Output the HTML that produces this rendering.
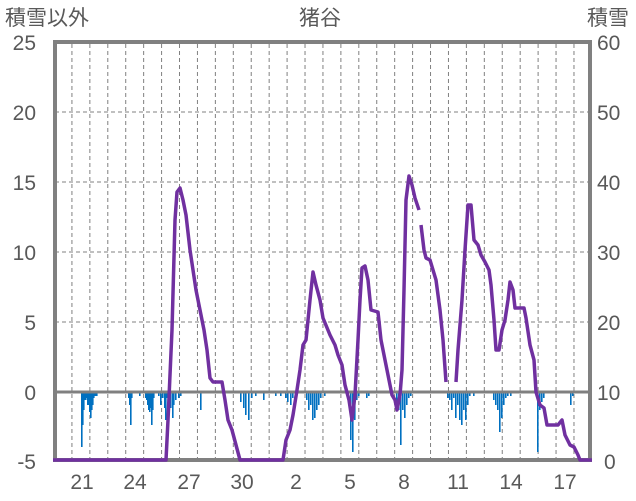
<!DOCTYPE html>
<html><head><meta charset="utf-8"><style>
body{margin:0;background:#fff}
svg{display:block}
text{font-family:"Liberation Sans","Noto Sans CJK JP",sans-serif;fill:#595959}
</style></head><body>
<svg width="636" height="501" viewBox="0 0 636 501">
<g stroke="#808080" stroke-width="1" stroke-dasharray="4,3">
<line x1="55" y1="112" x2="590" y2="112"/><line x1="55" y1="182" x2="590" y2="182"/>
<line x1="55" y1="252" x2="590" y2="252"/><line x1="55" y1="322" x2="590" y2="322"/>
</g>
<g id="vg" stroke="#808080" stroke-width="1" stroke-dasharray="4,3"></g>
<g id="bars" fill="#0070c0"></g>
<line x1="53" y1="392" x2="592" y2="392" stroke="#808080" stroke-width="3"/>
<path d="M55,42 H590 V460 H55 Z" fill="none" stroke="#808080" stroke-width="4"/>
<polyline fill="none" stroke="#7030a0" stroke-width="3.5" stroke-linejoin="round" points="53,460 166,460 168,420 172,330 175,220 177,192 180,188 183,200 186,215 190,250 193,270 196,290 200,310 204,330 207,350 210,378 213,382 222,382 225,400 228,420 232,430 236,445 240,460 283,460 286,440 290,430 293,415 297,390 300,370 303,345 306,340 310,300 313,272 316,285 320,300 323,318 330,335 335,345 338,355 342,365 345,385 349,400 352,420 355,395 358,340 360,300 362,268 365,266 368,280 371,310 378,312 381,340 384,355 388,375 392,395 395,400 397,410 400,395 402,370 404,290 406,200 409,176 412,185 415,198 419,210"/>
<polyline fill="none" stroke="#7030a0" stroke-width="3.5" stroke-linejoin="round" points="421,225 424,250 426,258 430,260 433,270 436,280 440,310 443,340 446,382"/>
<polyline fill="none" stroke="#7030a0" stroke-width="3.5" stroke-linejoin="round" points="456,382 458,350 462,300 465,250 468,205 471,205 474,240 478,245 481,255 485,262 489,270 491,285 494,320 496,350 499,350 502,330 505,320 508,300 510,282 513,290 515,308 524,308 526,318 530,345 534,360 536,392 540,405 544,408 547,425 558,425 562,420 565,435 570,445 574,447 578,455 580,460 592,460"/>
<g font-size="21" text-anchor="end">
<text x="36" y="50">25</text><text x="36" y="120">20</text><text x="36" y="190">15</text>
<text x="36" y="260">10</text><text x="36" y="330">5</text><text x="36" y="400">0</text><text x="36" y="469">-5</text>
</g>
<g font-size="21" text-anchor="start">
<text x="597" y="50">60</text><text x="597" y="120">50</text><text x="597" y="190">40</text>
<text x="597" y="260">30</text><text x="597" y="330">20</text><text x="597" y="400">10</text><text x="604" y="469">0</text>
</g>
<g font-size="21" text-anchor="middle">
<text x="82" y="489">21</text><text x="135" y="489">24</text><text x="189" y="489">27</text><text x="242" y="489">30</text>
<text x="296" y="489">2</text><text x="350" y="489">5</text><text x="404" y="489">8</text><text x="458" y="489">11</text>
<text x="511" y="489">14</text><text x="565" y="489">17</text>
<text x="320" y="25">猪谷</text>
</g>
<text x="5" y="25" font-size="21">積雪以外</text>
<text x="587" y="25" font-size="21">積雪</text>
</svg>
<script>
var vg=document.getElementById('vg'),s='';
for(var i=1;i<30;i++){var x=54+i*17.93;s+='<line x1="'+x+'" y1="44" x2="'+x+'" y2="458"/>';}
vg.innerHTML=s;
var b=[[81,447],[82,425],[83,410],[84,400],[85,400],[86,398],[87,405],[88,405],[89,412],[90,418],[91,410],[92,405],[93,398],[94,396],[95,396],[96,396],
[128,398],[129,405],[130,425],[131,398],[139,396],[145,398],[146,400],[147,405],[148,410],[149,412],[150,408],[151,425],[152,410],[153,398],[158,396],[160,405],[162,398],
[164,408],[165,420],[166,398],[168,400],[170,408],[172,418],[173,405],[175,400],[178,398],[180,396],[200,410],
[240,402],[243,408],[245,415],[248,420],[251,398],[255,396],[263,400],[275,396],[280,396],[285,398],[287,402],[290,405],[292,398],[295,396],
[306,400],[308,410],[310,405],[312,420],[314,418],[316,410],[318,405],[320,398],[324,396],
[350,440],[352,452],[354,420],[356,400],[358,396],[366,398],[368,396],
[396,405],[398,410],[400,445],[402,410],[404,418],[406,405],[408,398],[410,396],
[447,398],[449,400],[451,410],[453,398],[455,418],[457,405],[459,420],[461,425],[463,410],[465,420],[467,405],[469,396],[473,396],
[493,400],[495,405],[497,410],[499,432],[501,418],[503,405],[505,398],[507,396],[510,396],
[537,452],[539,410],[541,402],[543,398],[570,405],[572,396]];
var h='';b.forEach(function(p){h+='<rect x="'+p[0]+'" y="392" width="1.6" height="'+(p[1]-392)+'"/>';});
document.getElementById('bars').innerHTML=h;
</script>
</body></html>
